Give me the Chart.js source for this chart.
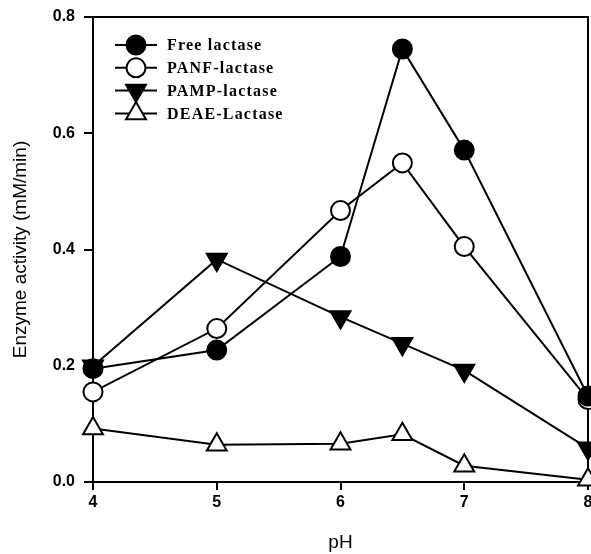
<!DOCTYPE html>
<html><head><meta charset="utf-8">
<script src="https://cdn.jsdelivr.net/npm/chart.js@4"></script>
<style>html,body{margin:0;padding:0;background:#fff}#wrap{width:591px;height:554px}</style>
</head><body><div id="wrap"><canvas id="c"></canvas></div>
<script>
const phValues = [4, 5, 6, 6.5, 7, 8];
const seriesNames = ['Free lactase', 'PANF-lactase', 'PAMP-lactase', 'DEAE-Lactase'];
const freeLactase = [0.195, 0.227, 0.388, 0.745, 0.571, 0.148];
const panfLactase = [0.155, 0.264, 0.467, 0.549, 0.405, 0.142];
const pampLactase = [0.199, 0.383, 0.284, 0.238, 0.192, 0.058];
const deaeLactase = [0.092, 0.064, 0.066, 0.082, 0.028, 0.004];
const xTicks = [4, 5, 6, 7, 8];
const yTickLabels = ['0.0', '0.2', '0.4', '0.6', '0.8'];

const styles = [
  {pointStyle:'circle', rotation:0, bg:'#000', r:9.5},
  {pointStyle:'circle', rotation:0, bg:'#fff', r:9.5},
  {pointStyle:'triangle', rotation:180, bg:'#000', r:11.5},
  {pointStyle:'triangle', rotation:0, bg:'#fff', r:11.5}
];
const values = [freeLactase, panfLactase, pampLactase, deaeLactase];
const datasets = values.map((v, i) => ({
  label: seriesNames[i],
  data: v.map((y, j) => ({x: phValues[j], y})),
  borderColor: '#000', borderWidth: 2,
  pointStyle: styles[i].pointStyle, pointRotation: styles[i].rotation,
  pointRadius: styles[i].r, pointHoverRadius: styles[i].r,
  pointBackgroundColor: styles[i].bg, pointBorderColor: '#000', pointBorderWidth: 2,
  clip: false, tension: 0
}));

const framePlugin = {
  id: 'frame',
  beforeDatasetsDraw(chart) {
    const {ctx, chartArea: a} = chart;
    ctx.save();
    ctx.strokeStyle = '#000'; ctx.lineWidth = 2;
    ctx.strokeRect(a.left, a.top, a.right - a.left, a.bottom - a.top);
    ctx.restore();
  }
};
const legendPlugin = {
  id: 'customLegend',
  afterDatasetsDraw(chart) {
    const {ctx, chartArea: a} = chart;
    ctx.save();
    chart.data.datasets.forEach((ds, i) => {
      const y = a.top + 28 + i * 22.8;
      const x0 = a.left + 22, x1 = a.left + 64, xm = a.left + 43;
      ctx.strokeStyle = '#000'; ctx.lineWidth = 2;
      ctx.beginPath(); ctx.moveTo(x0, y); ctx.lineTo(x1, y); ctx.stroke();
      ctx.fillStyle = ds.pointBackgroundColor; ctx.strokeStyle = '#000'; ctx.lineWidth = 2;
      Chart.helpers.drawPoint(ctx, {pointStyle: ds.pointStyle, rotation: ds.pointRotation, radius: ds.pointRadius, borderWidth: 2}, xm, y);
      ctx.fillStyle = '#000';
      ctx.font = 'bold 16px "Liberation Serif", "Times New Roman", serif';
      try { ctx.letterSpacing = '1.2px'; } catch(e) {}
      ctx.textBaseline = 'middle'; ctx.textAlign = 'left';
      ctx.fillText(ds.label, a.left + 74, y + 1);
    });
    ctx.restore();
  }
};

new Chart(document.getElementById('c'), {
  type: 'line',
  data: {datasets},
  options: {
    responsive: true, maintainAspectRatio: false, animation: false,
    layout: {autoPadding: false, padding: {left: 0, right: 3, top: 17, bottom: 0}},
    plugins: {legend: {display: false}, tooltip: {enabled: false}},
    scales: {
      x: {
        type: 'linear', min: 4, max: 8,
        afterBuildTicks: s => { s.ticks = xTicks.map(v => ({value: v})); },
        afterFit: s => { s.paddingLeft = 0; s.paddingRight = 0; s.height = 72; },
        grid: {display: true, drawOnChartArea: false, drawTicks: true, tickLength: 8, color: '#000', lineWidth: 2},
        border: {display: true, color: '#000', width: 2},
        ticks: {color: '#000', padding: 3, maxRotation: 0, font: {family: '"Liberation Sans", Arial, sans-serif', size: 16, weight: 'bold'}},
        title: {display: true, text: 'pH', color: '#000', padding: {top: 10, bottom: 0}, font: {family: '"Liberation Sans", Arial, sans-serif', size: 19}}
      },
      y: {
        min: 0, max: 0.8,
        afterBuildTicks: s => { s.ticks = yTickLabels.map(t => ({value: parseFloat(t)})); },
        afterFit: s => { s.width = 93; s.paddingTop = 0; s.paddingBottom = 0; },
        grid: {display: true, drawOnChartArea: false, drawTicks: true, tickLength: 9, color: '#000', lineWidth: 2},
        border: {display: true, color: '#000', width: 2},
        ticks: {color: '#000', padding: 9, font: {family: '"Liberation Sans", Arial, sans-serif', size: 16, weight: 'bold'},
          callback: (v) => yTickLabels.find(t => Math.abs(parseFloat(t) - v) < 1e-9) || ''},
        title: {display: true, text: 'Enzyme activity (mM/min)', color: '#000', padding: {top: 9, bottom: 0}, font: {family: '"Liberation Sans", Arial, sans-serif', size: 19}}
      }
    }
  },
  plugins: [framePlugin, legendPlugin]
});
</script></body></html>
